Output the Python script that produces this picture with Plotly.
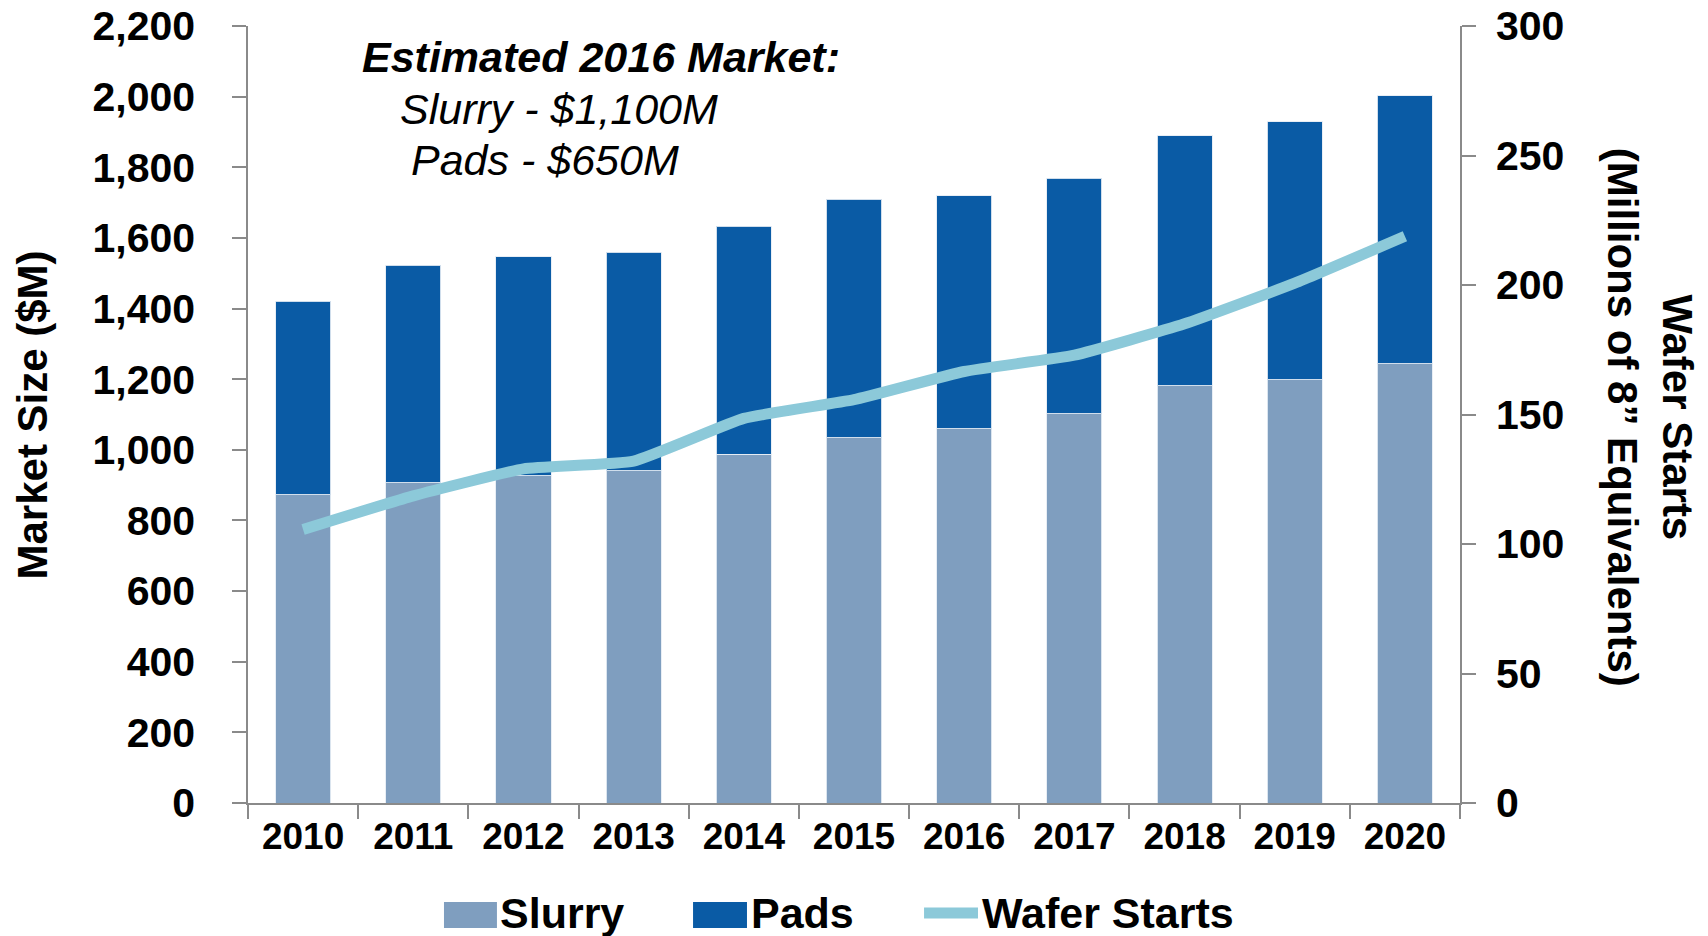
import plotly.graph_objects as go

years = ["2010", "2011", "2012", "2013", "2014", "2015", "2016", "2017", "2018", "2019", "2020"]
slurry = [873, 907, 926, 941, 988, 1034, 1059, 1102, 1182, 1198, 1244]
pads = [547, 615, 620, 618, 645, 676, 660, 667, 707, 731, 759]
wafer_starts = [105.6, 118.6, 129, 132, 148.5, 155.7, 166.6, 172.9, 185, 200.7, 218.8]

left_ticks = list(range(0, 2201, 200))
right_ticks = list(range(0, 301, 50))

C_SLURRY = "#7f9ebf"
C_PADS = "#0a5ba5"
C_LINE = "#8cc9d9"
AXIS = "#8a8a8a"
FONT = "Liberation Sans, Arial, sans-serif"

fig = go.Figure()
fig.add_trace(go.Bar(x=years, y=slurry, name="Slurry", marker=dict(color=C_SLURRY, line=dict(color="rgba(230,236,244,0.9)", width=1))))
fig.add_trace(go.Bar(x=years, y=pads, name="Pads", marker=dict(color=C_PADS, line=dict(color="rgba(230,236,244,0.9)", width=1))))
fig.add_trace(go.Scatter(x=years, y=wafer_starts, name="Wafer Starts", yaxis="y2", mode="lines",
                         line=dict(color=C_LINE, width=11, shape="spline", smoothing=0.4)))

fig.update_layout(
    width=1708, height=936,
    margin=dict(l=248, r=248, t=26, b=133),
    paper_bgcolor="white", plot_bgcolor="white",
    barmode="stack", bargap=0.5,
    showlegend=False,
    font=dict(family=FONT, color="black"),
    xaxis=dict(type="category", range=[-0.5, 10.5], showline=True, linecolor=AXIS, linewidth=1.5,
               ticks="outside", tickson="boundaries", ticklen=14, tickcolor=AXIS, tickwidth=1.5,
               tickfont=dict(family=FONT, size=37, weight="bold"), showgrid=False, zeroline=False,
               automargin=False),
    yaxis=dict(range=[0, 2200], tickvals=left_ticks, tickformat=",", showline=True, linecolor=AXIS, linewidth=1.5,
               ticks="outside", ticklen=14, tickcolor=AXIS, tickwidth=1.5, ticklabelstandoff=29,
               ticklabeloverflow="allow",
               tickfont=dict(family=FONT, size=41, weight="bold"), showgrid=False, zeroline=False,
               automargin=False),
    yaxis2=dict(range=[0, 300], tickvals=right_ticks, overlaying="y", side="right", showline=True,
                linecolor=AXIS, linewidth=1.5, ticks="outside", ticklen=14, tickcolor=AXIS, tickwidth=1.5,
                ticklabelstandoff=12, ticklabeloverflow="allow",
                tickfont=dict(family=FONT, size=41, weight="bold"),
                showgrid=False, zeroline=False, automargin=False),
)

ann = [
    dict(text="<b>Market Size ($M)</b>", x=-0.1774, y=0.5, textangle=-90, font=dict(size=42),
         xanchor="center", yanchor="middle"),
    dict(text="<b>Wafer Starts</b><br><b>(Millions of 8” Equivalents)</b>", x=1.1568, y=0.497, textangle=90,
         font=dict(size=42), xanchor="center", yanchor="middle"),
    dict(text="<b><i>Estimated 2016 Market:</i></b>", x=0.0924, y=0.960, font=dict(size=43),
         xanchor="left", yanchor="middle"),
    dict(text="<i>Slurry - $1,100M</i>", x=0.1237, y=0.893, font=dict(size=43), xanchor="left", yanchor="middle"),
    dict(text="<i>Pads - $650M</i>", x=0.1328, y=0.8275, font=dict(size=43), xanchor="left", yanchor="middle"),
    dict(text="<b>Slurry</b>", x=0.2062, y=-0.1416, font=dict(size=43), xanchor="left", yanchor="middle"),
    dict(text="<b>Pads</b>", x=0.4133, y=-0.1416, font=dict(size=43), xanchor="left", yanchor="middle"),
    dict(text="<b>Wafer Starts</b>", x=0.6039, y=-0.1416, font=dict(size=43), xanchor="left", yanchor="middle"),
]
for a in ann:
    a.update(xref="paper", yref="paper", showarrow=False)
    a["font"].update(family=FONT, color="black")
fig.update_layout(annotations=ann)

shapes = [
    dict(type="rect", x0=0.1617, x1=0.2054, y0=-0.1274, y1=-0.1609, fillcolor=C_SLURRY, line=dict(width=0)),
    dict(type="rect", x0=0.3672, x1=0.4117, y0=-0.1274, y1=-0.1609, fillcolor=C_PADS, line=dict(width=0)),
    dict(type="line", x0=0.5578, x1=0.6023, y0=-0.1416, y1=-0.1416, line=dict(color=C_LINE, width=11)),
]
for s in shapes:
    s.update(xref="paper", yref="paper")
fig.update_layout(shapes=shapes)

fig.write_html("out.html", config={"displayModeBar": False},
               post_script="document.body.style.margin='0';")
